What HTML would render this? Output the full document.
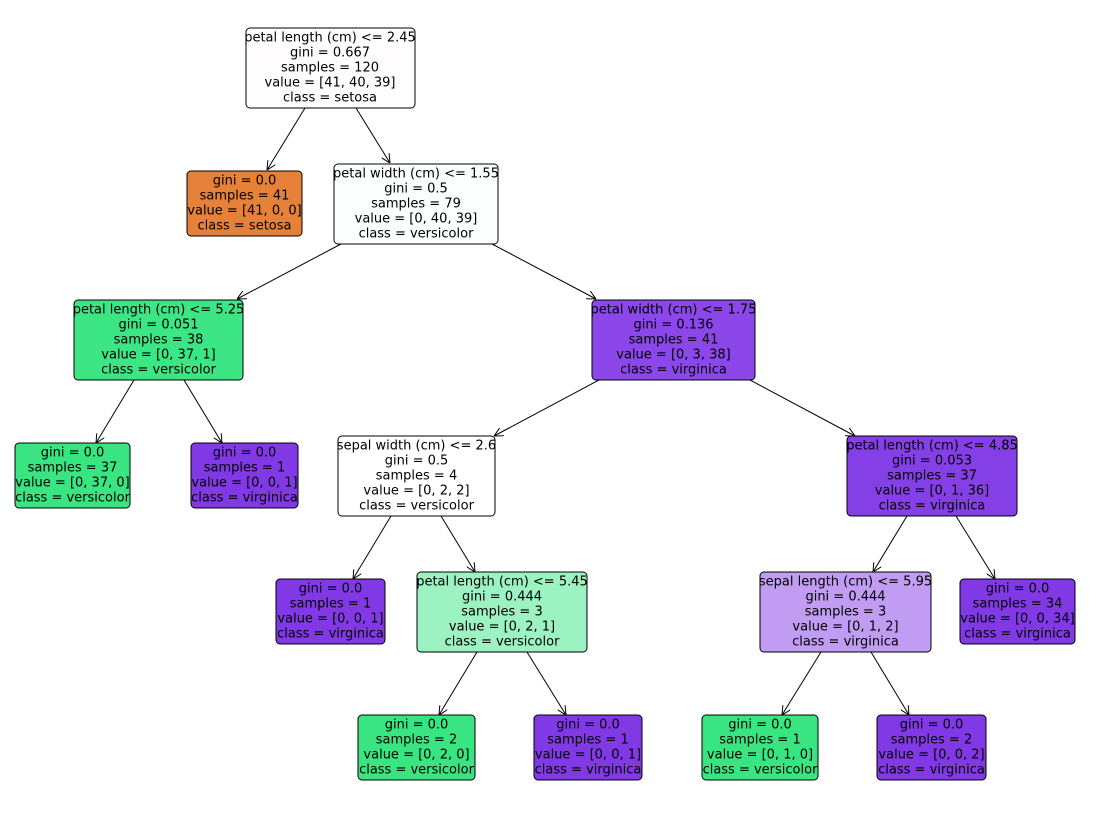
<!DOCTYPE html>
<html><head><meta charset="utf-8"><style>
html,body{margin:0;padding:0;background:#fff;}
svg text{font-family:"DejaVu Sans","Liberation Sans",sans-serif;font-size:13px;fill:#000;text-anchor:middle;dominant-baseline:central;}
rect{stroke:#000;stroke-width:1;}
line{stroke:#000;stroke-width:1;}
</style></head><body>
<svg width="1097" height="820" viewBox="0 0 1097 820" xmlns="http://www.w3.org/2000/svg">
<defs><marker id="a" viewBox="0 0 10 10" refX="10" refY="5" markerWidth="9" markerHeight="9" orient="auto" markerUnits="userSpaceOnUse"><path d="M0,0 L10,5 L0,10" fill="none" stroke="#000" stroke-width="1.1"/></marker></defs>
<g marker-end="url(#a)">
<line x1="305" y1="108" x2="267" y2="170"/>
<line x1="356" y1="108" x2="390" y2="163"/>
<line x1="341" y1="244" x2="237" y2="299"/>
<line x1="492" y1="244" x2="596" y2="299"/>
<line x1="134" y1="380" x2="96" y2="443"/>
<line x1="184" y1="380" x2="222" y2="443"/>
<line x1="599" y1="380" x2="494" y2="436"/>
<line x1="750" y1="380" x2="855" y2="436"/>
<line x1="391" y1="516" x2="353" y2="579"/>
<line x1="441" y1="516" x2="475" y2="572"/>
<line x1="907" y1="516" x2="873" y2="572"/>
<line x1="956" y1="516" x2="995" y2="579"/>
<line x1="477" y1="652" x2="439" y2="715"/>
<line x1="527" y1="652" x2="566" y2="715"/>
<line x1="821" y1="652" x2="782" y2="715"/>
<line x1="871" y1="652" x2="909" y2="715"/>
</g>

<rect x="246" y="28" width="169" height="80" rx="4" fill="#fffdfd"/>
<text x="330" y="38">petal length (cm) &lt;= 2.45</text><text x="330" y="53">gini = 0.667</text><text x="330" y="68">samples = 120</text><text x="330" y="83">value = [41, 40, 39]</text><text x="330" y="98">class = setosa</text>

<rect x="187" y="171" width="115" height="65" rx="4" fill="#e58139"/>
<text x="244.5" y="181">gini = 0.0</text><text x="244.5" y="196">samples = 41</text><text x="244.5" y="211">value = [41, 0, 0]</text><text x="244.5" y="226">class = setosa</text>

<rect x="334" y="164" width="164" height="80" rx="4" fill="#fbfffd"/>
<text x="416" y="174">petal width (cm) &lt;= 1.55</text><text x="416" y="189">gini = 0.5</text><text x="416" y="204">samples = 79</text><text x="416" y="219">value = [0, 40, 39]</text><text x="416" y="234">class = versicolor</text>

<rect x="74" y="300" width="169" height="80" rx="4" fill="#3de684"/>
<text x="158.5" y="310">petal length (cm) &lt;= 5.25</text><text x="158.5" y="325">gini = 0.051</text><text x="158.5" y="340">samples = 38</text><text x="158.5" y="355">value = [0, 37, 1]</text><text x="158.5" y="370">class = versicolor</text>

<rect x="592" y="300" width="163" height="80" rx="4" fill="#8b47e9"/>
<text x="673.5" y="310">petal width (cm) &lt;= 1.75</text><text x="673.5" y="325">gini = 0.136</text><text x="673.5" y="340">samples = 41</text><text x="673.5" y="355">value = [0, 3, 38]</text><text x="673.5" y="370">class = virginica</text>

<rect x="15" y="443" width="115" height="65" rx="4" fill="#39e581"/>
<text x="72.5" y="453">gini = 0.0</text><text x="72.5" y="468">samples = 37</text><text x="72.5" y="483">value = [0, 37, 0]</text><text x="72.5" y="498">class = versicolor</text>

<rect x="191" y="443" width="107" height="65" rx="4" fill="#8139e5"/>
<text x="244.5" y="453">gini = 0.0</text><text x="244.5" y="468">samples = 1</text><text x="244.5" y="483">value = [0, 0, 1]</text><text x="244.5" y="498">class = virginica</text>

<rect x="338" y="436" width="157" height="80" rx="4" fill="#ffffff"/>
<text x="416.5" y="446">sepal width (cm) &lt;= 2.6</text><text x="416.5" y="461">gini = 0.5</text><text x="416.5" y="476">samples = 4</text><text x="416.5" y="491">value = [0, 2, 2]</text><text x="416.5" y="506">class = versicolor</text>

<rect x="847" y="436" width="170" height="80" rx="4" fill="#853fe6"/>
<text x="932" y="446">petal length (cm) &lt;= 4.85</text><text x="932" y="461">gini = 0.053</text><text x="932" y="476">samples = 37</text><text x="932" y="491">value = [0, 1, 36]</text><text x="932" y="506">class = virginica</text>

<rect x="276" y="579" width="109" height="65" rx="4" fill="#8139e5"/>
<text x="330.5" y="589">gini = 0.0</text><text x="330.5" y="604">samples = 1</text><text x="330.5" y="619">value = [0, 0, 1]</text><text x="330.5" y="634">class = virginica</text>

<rect x="417" y="572" width="170" height="80" rx="4" fill="#9cf2c0"/>
<text x="502" y="582">petal length (cm) &lt;= 5.45</text><text x="502" y="597">gini = 0.444</text><text x="502" y="612">samples = 3</text><text x="502" y="627">value = [0, 2, 1]</text><text x="502" y="642">class = versicolor</text>

<rect x="760" y="572" width="171" height="80" rx="4" fill="#c09cf2"/>
<text x="845.5" y="582">sepal length (cm) &lt;= 5.95</text><text x="845.5" y="597">gini = 0.444</text><text x="845.5" y="612">samples = 3</text><text x="845.5" y="627">value = [0, 1, 2]</text><text x="845.5" y="642">class = virginica</text>

<rect x="960" y="579" width="115" height="65" rx="4" fill="#8139e5"/>
<text x="1017.5" y="589">gini = 0.0</text><text x="1017.5" y="604">samples = 34</text><text x="1017.5" y="619">value = [0, 0, 34]</text><text x="1017.5" y="634">class = virginica</text>

<rect x="358" y="715" width="117" height="65" rx="4" fill="#39e581"/>
<text x="416.5" y="725">gini = 0.0</text><text x="416.5" y="740">samples = 2</text><text x="416.5" y="755">value = [0, 2, 0]</text><text x="416.5" y="770">class = versicolor</text>

<rect x="534" y="715" width="108" height="65" rx="4" fill="#8139e5"/>
<text x="588" y="725">gini = 0.0</text><text x="588" y="740">samples = 1</text><text x="588" y="755">value = [0, 0, 1]</text><text x="588" y="770">class = virginica</text>

<rect x="702" y="715" width="116" height="65" rx="4" fill="#39e581"/>
<text x="760" y="725">gini = 0.0</text><text x="760" y="740">samples = 1</text><text x="760" y="755">value = [0, 1, 0]</text><text x="760" y="770">class = versicolor</text>

<rect x="877" y="715" width="109" height="65" rx="4" fill="#8139e5"/>
<text x="931.5" y="725">gini = 0.0</text><text x="931.5" y="740">samples = 2</text><text x="931.5" y="755">value = [0, 0, 2]</text><text x="931.5" y="770">class = virginica</text>
</svg>
</body></html>
